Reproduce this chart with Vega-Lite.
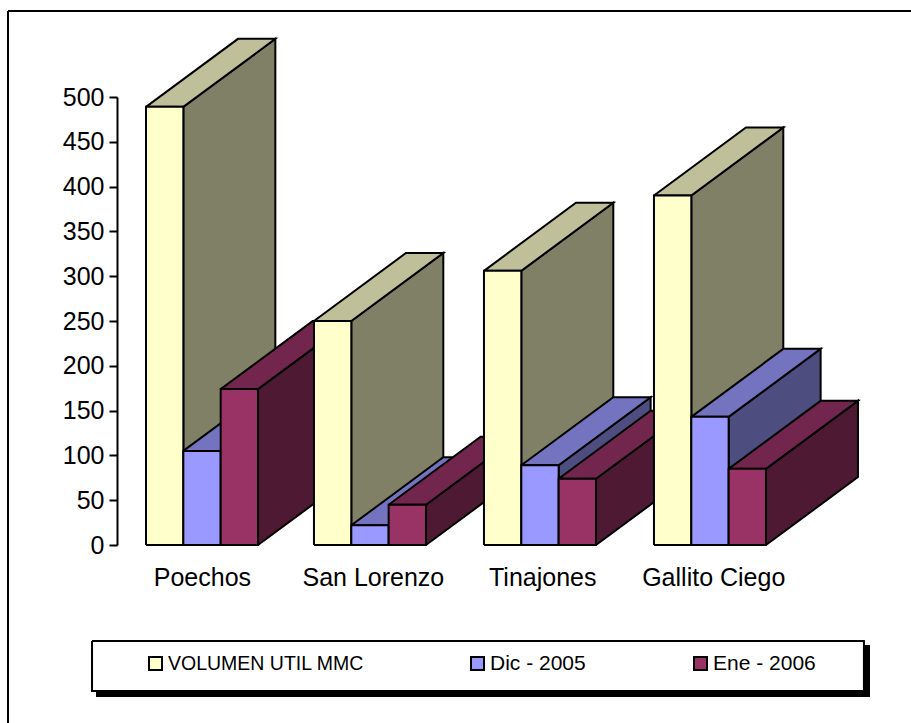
{
"$schema":"https://vega.github.io/schema/vega-lite/v6.json",
"width":794,"height":448,
"autosize":{"type":"none"},
"padding":{"left":117,"top":97,"right":0,"bottom":178},
"background":"white",
"config":{"view":{"stroke":null},"font":"Liberation Sans"},
"data":{"values":[
{"reservoir":"frame","series":"chart frame","value":0},
{"reservoir":"frame","series":"legend shadow","value":0},
{"reservoir":"frame","series":"legend box","value":0},
{"reservoir":"Poechos","series":"VOLUMEN UTIL MMC","value":489},
{"reservoir":"Poechos","series":"Dic - 2005","value":105},
{"reservoir":"Poechos","series":"Ene - 2006","value":174},
{"reservoir":"San Lorenzo","series":"VOLUMEN UTIL MMC","value":250},
{"reservoir":"San Lorenzo","series":"Dic - 2005","value":22},
{"reservoir":"San Lorenzo","series":"Ene - 2006","value":45},
{"reservoir":"Tinajones","series":"VOLUMEN UTIL MMC","value":306},
{"reservoir":"Tinajones","series":"Dic - 2005","value":89},
{"reservoir":"Tinajones","series":"Ene - 2006","value":74},
{"reservoir":"Gallito Ciego","series":"VOLUMEN UTIL MMC","value":390},
{"reservoir":"Gallito Ciego","series":"Dic - 2005","value":143},
{"reservoir":"Gallito Ciego","series":"Ene - 2006","value":85}
]},
"transform":[
{"calculate":"indexof(['Poechos','San Lorenzo','Tinajones','Gallito Ciego'],datum.reservoir)","as":"g"},
{"calculate":"indexof(['VOLUMEN UTIL MMC','Dic - 2005','Ene - 2006'],datum.series)","as":"s"},
{"calculate":"[0,0.992,1.996,3.0][datum.g]+datum.s*0.2205","as":"x0"},
{"calculate":"datum.x0+0.2205","as":"x1"},
{"calculate":"datum.reservoir=='frame'?['front']:['side','top','front']","as":"face"},
{"flatten":["face"]},
{"calculate":"[0,1,2,3,4]","as":"k"},
{"flatten":["k"]},
{"calculate":"datum.series=='chart frame'?[-0.815,5,5,-0.815,-0.815][datum.k]:datum.series=='legend shadow'?[-0.2894,4.27,4.27,-0.2894,-0.2894][datum.k]:datum.series=='legend box'?[-0.3189,4.24,4.24,-0.3189,-0.3189][datum.k]:datum.face=='front'?[datum.x0,datum.x1,datum.x1,datum.x0,datum.x0][datum.k]:datum.face=='top'?[datum.x0,datum.x1,datum.x1+0.5433,datum.x0+0.5433,datum.x0][datum.k]:[datum.x1,datum.x1,datum.x1+0.5433,datum.x1+0.5433,datum.x1][datum.k]","as":"px"},
{"calculate":"datum.series=='chart frame'?[596,596,-400,-400,596][datum.k]:datum.series=='legend shadow'?[-112.7,-112.7,-168.5,-168.5,-112.7][datum.k]:datum.series=='legend box'?[-107.1,-107.1,-162.9,-162.9,-107.1][datum.k]:datum.face=='front'?[0,0,datum.value,datum.value,0][datum.k]:datum.face=='top'?[datum.value,datum.value,datum.value+75.9,datum.value+75.9,datum.value][datum.k]:[0,datum.value,datum.value+75.9,75.9,0][datum.k]","as":"py"},
{"calculate":"datum.face=='front'?datum.series:datum.series+' '+datum.face","as":"shade"},
{"calculate":"datum.reservoir+'-'+datum.series+'-'+datum.face","as":"poly"}
],
"mark":{"type":"line","stroke":"black","strokeWidth":2,"strokeJoin":"miter","interpolate":"linear"},
"encoding":{
"x":{"field":"px","type":"quantitative","scale":{"domain":[-0.1713,4.518],"nice":false,"zero":false},
 "axis":{"title":null,"values":[0.33,1.34,2.34,3.35],"domain":false,"ticks":false,"grid":false,"labelFontSize":25,"labelColor":"black","labelPadding":20,"labelOverlap":false,"labelFlush":false,"labelBound":false,"labelLimit":300,"labelExpr":"['Poechos','San Lorenzo','Tinajones','Gallito Ciego'][floor(datum.value)]"}},
"y":{"field":"py","type":"quantitative","scale":{"domain":[0,500],"nice":false},
 "axis":{"title":null,"values":[0,50,100,150,200,250,300,350,400,450,500],"grid":false,"domainColor":"black","domainWidth":2,"tickColor":"black","tickWidth":2,"tickSize":8,"labelFontSize":25,"labelColor":"black","labelPadding":5}},
"detail":{"field":"poly"},
"order":{"field":"k"},
"fill":{"field":"shade","type":"nominal","scale":{
 "domain":["VOLUMEN UTIL MMC","Dic - 2005","Ene - 2006","VOLUMEN UTIL MMC top","Dic - 2005 top","Ene - 2006 top","VOLUMEN UTIL MMC side","Dic - 2005 side","Ene - 2006 side","chart frame","legend shadow","legend box"],
 "range":["#FFFFCC","#9999FF","#993366","#BFBF99","#7373BF","#73264D","#808066","#4D4D80","#4D1933","transparent","black","white"]},
 "legend":{"title":null,"orient":"none","legendX":-25,"legendY":545,"direction":"horizontal","columns":3,"values":["VOLUMEN UTIL MMC","Dic - 2005","Ene - 2006"],
 "padding":14,"symbolType":"square","symbolSize":169,"symbolStrokeColor":"black","symbolStrokeWidth":2,"symbolOffset":42,"labelOffset":5,"labelFontSize":21,"labelColor":"black","labelLimit":500,"columnPadding":37,
 "encoding":{
  "labels":{"fontSize":{"condition":{"test":"indexof(datum.label,'VOLUMEN')==0","value":19.5},"value":21},"dx":{"condition":[{"test":"indexof(datum.label,'Dic')==0","value":26},{"test":"indexof(datum.label,'Ene')==0","value":28}],"value":0}},
  "symbols":{"x":{"condition":[{"test":"indexof(datum.label,'Dic')==0","value":75.5},{"test":"indexof(datum.label,'Ene')==0","value":77.5}],"value":49.5}}}}}
}
}
